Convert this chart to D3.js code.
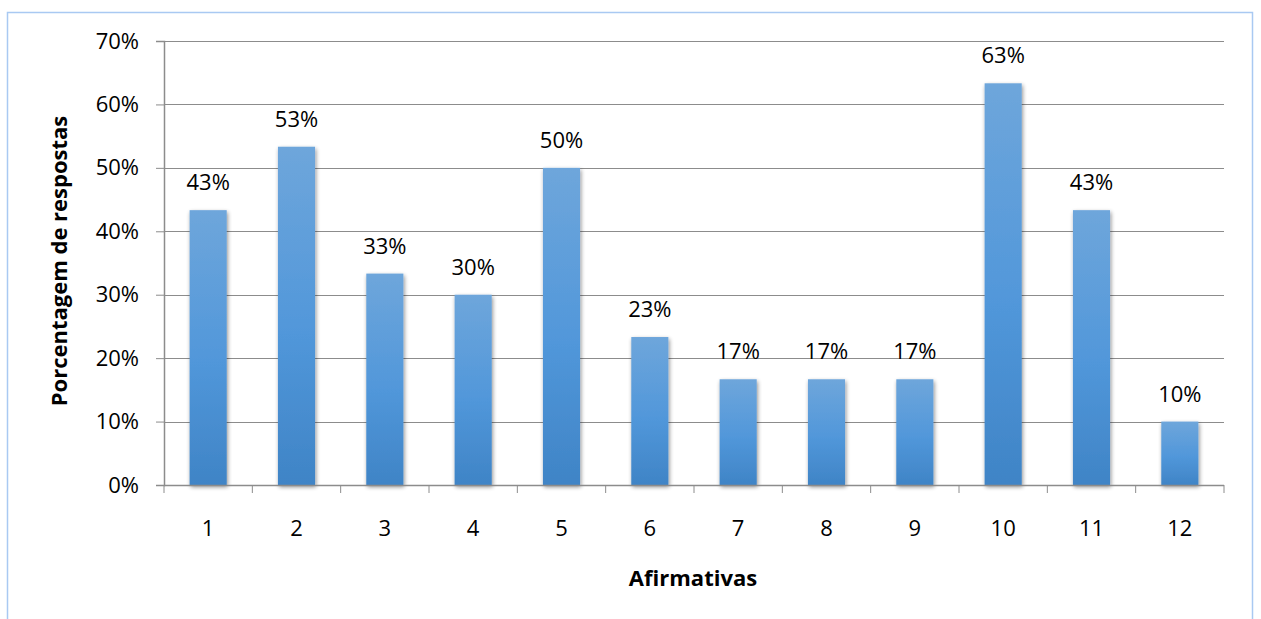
<!DOCTYPE html>
<html>
<head>
<meta charset="utf-8">
<script src="https://cdn.jsdelivr.net/npm/d3@7"></script>
<style>
  html, body { margin: 0; padding: 0; background: #fff; }
  svg { display: block; font-family: "Open Sans", Lato, sans-serif; }
</style>
</head>
<body>
<svg id="chart" width="1261" height="619"></svg>
<script>
// Share of answers per statement
const categories = ["1", "2", "3", "4", "5", "6", "7", "8", "9", "10", "11", "12"];
const values = [43.33, 53.33, 33.33, 30, 50, 23.33, 16.67, 16.67, 16.67, 63.33, 43.33, 10];
const yTicks = [0, 10, 20, 30, 40, 50, 60, 70];
const xTitle = "Afirmativas";
const yTitle = "Porcentagem de respostas";

const FONT = "'Open Sans', Lato, sans-serif";
const svg = d3.select("#chart");
const W = 1261, H = 619;
const margin = { left: 164, right: 37, top: 41, bottom: 134 };
const innerW = W - margin.left - margin.right;
const innerH = H - margin.top - margin.bottom;

// Outer frame
svg.append("rect")
  .attr("x", 7.5).attr("y", 12.5)
  .attr("width", 1245).attr("height", 640)
  .attr("fill", "#fff")
  .attr("stroke", "#a9c9f2").attr("stroke-width", 1.5);

const defs = svg.append("defs");
const grad = defs.append("linearGradient")
  .attr("id", "barGrad").attr("x1", 0).attr("y1", 0).attr("x2", 0).attr("y2", 1);
grad.append("stop").attr("offset", "0%").attr("stop-color", "#6ea6db");
grad.append("stop").attr("offset", "55%").attr("stop-color", "#5197da");
grad.append("stop").attr("offset", "100%").attr("stop-color", "#3f84c6");

const shadow = defs.append("filter").attr("id", "barShadow")
  .attr("x", "-30%").attr("y", "-10%").attr("width", "160%").attr("height", "120%");
shadow.append("feGaussianBlur").attr("in", "SourceAlpha").attr("stdDeviation", 2.2).attr("result", "b");
shadow.append("feOffset").attr("in", "b").attr("dx", 1).attr("dy", 1.5).attr("result", "o");
shadow.append("feComponentTransfer").attr("in", "o").attr("result", "s")
  .append("feFuncA").attr("type", "linear").attr("slope", 0.45);
const merge = shadow.append("feMerge");
merge.append("feMergeNode").attr("in", "s");
merge.append("feMergeNode").attr("in", "SourceGraphic");

const g = svg.append("g").attr("transform", `translate(${margin.left},${margin.top})`);

const x = d3.scaleBand().domain(categories).range([0, innerW]).paddingInner(0.58).paddingOuter(0.29);
const y = d3.scaleLinear().domain([0, 70]).range([innerH, 0]);

// Horizontal gridlines
g.append("g").selectAll("line").data(yTicks.filter(t => t > 0)).join("line")
  .attr("x1", 0).attr("x2", innerW)
  .attr("y1", d => Math.round(y(d)) + 0.5).attr("y2", d => Math.round(y(d)) + 0.5)
  .attr("stroke", "#8c8c8c").attr("stroke-width", 1);

// Y axis
const yAxis = g.append("g")
  .call(d3.axisLeft(y).tickValues(yTicks).tickFormat(d => d + "%").tickSize(8).tickPadding(17));
yAxis.select(".domain").attr("stroke", "#8c8c8c").attr("stroke-width", 1.5);
yAxis.selectAll(".tick line").attr("stroke", "#8c8c8c");
yAxis.selectAll("text").attr("font-size", 22).attr("fill", "#000")
  .attr("font-family", FONT);

// Bars
g.append("g").selectAll("rect").data(values).join("rect")
  .attr("x", (d, i) => x(categories[i]))
  .attr("y", d => y(d))
  .attr("width", x.bandwidth())
  .attr("height", d => innerH - y(d))
  .attr("fill", "url(#barGrad)")
  .attr("filter", "url(#barShadow)");

// X axis with ticks at category boundaries
const step = innerW / categories.length;
const xa = g.append("g").attr("transform", `translate(0,${innerH})`);
xa.append("line").attr("x1", 0).attr("x2", innerW).attr("y1", 0.5).attr("y2", 0.5)
  .attr("stroke", "#8c8c8c").attr("stroke-width", 1.5);
xa.selectAll("line.tk").data(d3.range(categories.length + 1)).join("line")
  .attr("class", "tk")
  .attr("x1", i => i * step).attr("x2", i => i * step)
  .attr("y1", 0).attr("y2", 8)
  .attr("stroke", "#8c8c8c");
xa.selectAll("text").data(categories).join("text")
  .attr("x", d => x(d) + x.bandwidth() / 2)
  .attr("y", 51)
  .attr("text-anchor", "middle")
  .attr("font-size", 22).attr("fill", "#000")
  .text(d => d);

// Value labels
g.append("g").selectAll("text").data(values).join("text")
  .attr("x", (d, i) => x(categories[i]) + x.bandwidth() / 2)
  .attr("y", d => y(d) - 20)
  .attr("text-anchor", "middle")
  .attr("font-size", 22).attr("fill", "#000")
  .text(d => Math.round(d) + "%");

// Axis titles
svg.append("text")
  .attr("x", 693).attr("y", 586)
  .attr("text-anchor", "middle")
  .attr("font-size", 22).attr("font-weight", "bold").attr("fill", "#000")
  .text(xTitle);

svg.append("text")
  .attr("transform", "translate(67,261) rotate(-90)")
  .attr("text-anchor", "middle")
  .attr("font-size", 22).attr("font-weight", "bold").attr("fill", "#000")
  .text(yTitle);
</script>
</body>
</html>
